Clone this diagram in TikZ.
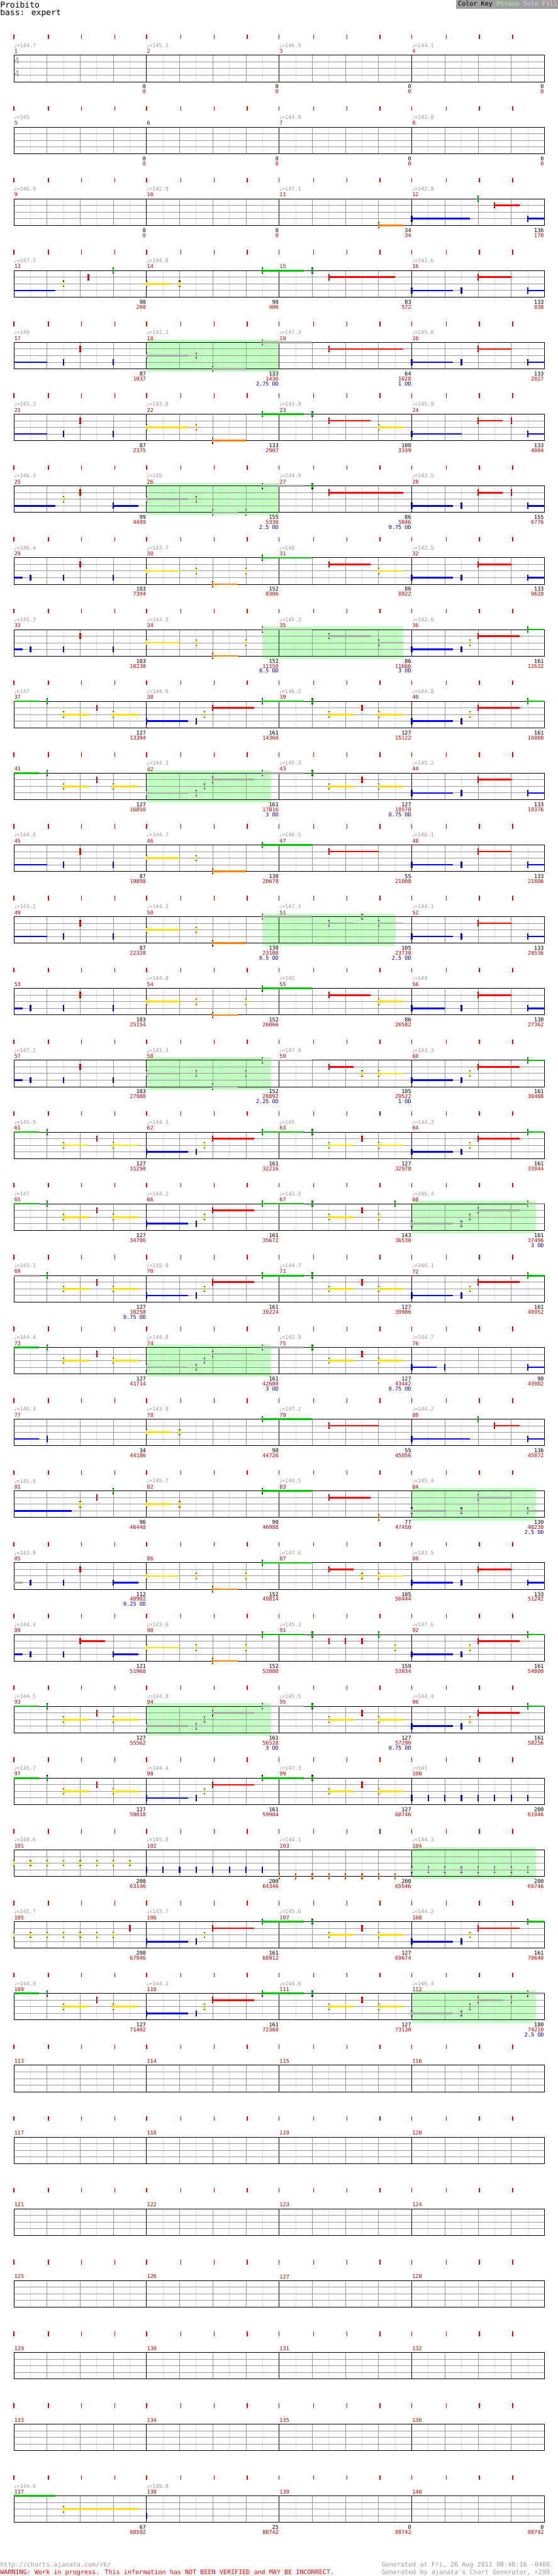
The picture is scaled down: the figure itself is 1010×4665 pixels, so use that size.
\documentclass[tikz,border=0pt]{standalone}
\usepackage{fontspec}
\newfontfamily\mono{DejaVu Sans Mono}
\newfontfamily\dv{DejaVu Sans}
\definecolor{lane0}{HTML}{00C000}
\definecolor{lane1}{HTML}{FF0000}
\definecolor{lane2}{HTML}{FFE000}
\definecolor{lane3}{HTML}{0000FF}
\definecolor{lane4}{HTML}{FF8000}
\definecolor{notegray}{HTML}{A8A8A8}
\definecolor{spfill}{HTML}{C0FFC0}
\definecolor{gridA}{HTML}{999999}
\definecolor{gridB}{HTML}{DDDDDD}
\definecolor{txtgray}{HTML}{999999}
\definecolor{numred}{HTML}{CC0000}
\definecolor{odblue}{HTML}{0000CC}
\definecolor{keybg}{HTML}{A0A0A0}
\definecolor{keyphr}{HTML}{B0F0B0}
\definecolor{keysolo}{HTML}{D0D0FF}
\definecolor{keyfill}{HTML}{FFC8C8}
\tikzset{
 tick/.style={draw=red,line width=0.8pt},
 hb/.style={draw=gridB,line width=0.5pt},
 bl/.style={draw=gridA,line width=0.5pt},
 ml/.style={draw=black,line width=0.5pt},
 sus/.style={line width=1.5pt},
 headk/.style={draw=black,line width=1.3pt},
 headc/.style={line width=1.3pt},
 small/.style={inner sep=0pt,font=\mono\fontsize{4.85pt}{5pt}\selectfont},
 mnum/.style={small,anchor=west,text=numred},
 tempo/.style={small,anchor=west,text=txtgray},
 bnum/.style={small,anchor=east,text=black},
 rnum/.style={small,anchor=east,text=numred},
 od/.style={small,anchor=east,text=odblue},
 ts/.style={inner sep=0pt,anchor=west,text=txtgray,font=\mono\fontsize{8pt}{8pt}\selectfont},
}
\newcommand\Staff[1]{%
 \pgfmathsetmacro\Ty{100+130*(#1-1)}%
 \foreach \b in {0,4,8,12} {\draw[tick] ({25.1+60.03*\b},\Ty-37.7) -- ++(0,8.4);}
 \foreach \b in {1,2,3,5,6,7,9,10,11,13,14,15} {\draw[tick] ({27.6+60.03*\b},\Ty-37.7) -- ++(0,8.4);}
 \foreach \b in {0.5,1.5,...,15.5} {\draw[hb] ({25.1+60.03*\b},\Ty) -- ++(0,48);}
 \foreach \b in {1,2,3,5,6,7,9,10,11,13,14,15} {\draw[bl] ({25.1+60.03*\b},\Ty) -- ++(0,48);}
 \foreach \l in {1,2,3} {\draw[bl] (25.1,\Ty+12*\l) -- (985.6,\Ty+12*\l);}
 \foreach \b in {4,8,12} {\draw[ml] ({25.1+60.03*\b},\Ty) -- ++(0,48);}
 \draw[ml] (25.1,\Ty) rectangle (985.6,\Ty+48);
 \foreach \m in {0,1,2,3} {\pgfmathtruncatemacro\mn{4*(#1-1)+\m+1}\node[mnum] at ({25.6+240.12*\m},\Ty-7.3) {\mn};}
}
\newcommand\SP[3]{%
 \pgfmathsetmacro\Ty{100+130*(#1-1)}%
 \fill[spfill] ({25.1+60.03*#2},\Ty-5.3) rectangle ({25.1+60.03*#3},\Ty+53.3);}
\newcommand\NoteAt[6]{%
 \pgfmathsetmacro\xs{25.1+60.03*#3}%
 \pgfmathsetmacro\xe{25.1+60.03*#4}%
 \pgfmathsetmacro\yy{100+130*(#1-1)+12*#2}%
 \ifdim #4pt>#3pt \draw[sus,#5] (\xs,\yy) -- (\xe,\yy);\fi
 \ifnum#6=1
  \draw[headk] (\xs,\yy-5.5) -- (\xs,\yy+5.5);
  \draw[headc,#5] (\xs,\yy-4.3) -- (\xs,\yy+4.3);
 \fi}
\newcommand\QH[4]{\NoteAt{#1}{#2}{#3}{#4}{lane#2}{1}}
\newcommand\QG[4]{\NoteAt{#1}{#2}{#3}{#4}{notegray}{1}}
\newcommand\QC[4]{\NoteAt{#1}{#2}{#3}{#4}{lane#2}{0}}
\newcommand\QGC[4]{\NoteAt{#1}{#2}{#3}{#4}{notegray}{0}}
\newcommand\Tm[3]{%
 \if\relax\detokenize{#3}\relax\else
 \pgfmathsetmacro\Ty{100+130*(#1-1)}%
 \node[tempo] at ({25.1+240.12*#2},\Ty-18) {{\dv ♩}=#3};%
 \fi}
\newcommand\Rt[5]{\Tm{#1}{0}{#2}\Tm{#1}{1}{#3}\Tm{#1}{2}{#4}\Tm{#1}{3}{#5}}
\newcommand\Nm[4]{%
 \pgfmathsetmacro\Ty{100+130*(#1-1)}%
 \node[bnum] at ({24.6+240.12*#2},\Ty+57) {#3};
 \node[rnum] at ({24.6+240.12*#2},\Ty+66) {#4};}
\newcommand\Rn[9]{\Nm{#1}{1}{#2}{#3}\Nm{#1}{2}{#4}{#5}\Nm{#1}{3}{#6}{#7}\Nm{#1}{4}{#8}{#9}}
\newcommand\Od[3]{%
 \pgfmathsetmacro\Ty{100+130*(#1-1)}%
 \node[od] at ({24.6+240.12*#2},\Ty+75) {#3};}
% recurring riff, beats 1 to 11.75
\newcommand\PatB[1]{%
 \QH{#1}{0}{1}{1}\QH{#1}{2}{1.5}{2.25}\QH{#1}{1}{2.5}{2.5}\QH{#1}{2}{3}{3.75}%
 \QH{#1}{3}{4}{5.25}\QH{#1}{3}{5.5}{5.5}\QH{#1}{2}{5.75}{5.75}\QH{#1}{1}{6}{7.25}%
 \QH{#1}{0}{7.5}{8.75}\QH{#1}{0}{9}{9}\QH{#1}{2}{9.5}{10.25}\QH{#1}{1}{10.5}{10.5}%
 \QH{#1}{2}{11}{11.75}}
\newcommand\PatT[1]{%
 \QH{#1}{3}{12}{13.25}\QH{#1}{3}{13.5}{13.5}\QH{#1}{2}{13.75}{13.75}%
 \QH{#1}{1}{14}{15.25}\QH{#1}{0}{15.5}{16}}
\newcommand\PatA[1]{\PatB{#1}\PatT{#1}}
\begin{document}
\begin{tikzpicture}[x=0.5pt,y=-0.5pt]
\useasboundingbox (0,0) rectangle (1010,4665);
\fill[white] (0,0) rectangle (1010,4665);
% header
\node[inner sep=0pt,anchor=west,font=\mono\fontsize{7.4pt}{8pt}\selectfont] (title) at (0,8.3) {Proibito};
\node[inner sep=0pt,anchor=west,font=\mono\fontsize{7.4pt}{8pt}\selectfont] (sub) at (0,24) {bass: expert};
\fill[keybg] (826,0) rectangle (1010,16);
\node[inner sep=0pt,anchor=west,font=\mono\fontsize{5.75pt}{6pt}\selectfont] (key) at (829,8) {Color Key \textcolor{keyphr}{Phrase} \textcolor{keysolo}{Solo} \textcolor{keyfill}{Fill}};
% star power boxes
\SP{5}{4}{8}\SP{7}{4}{8}\SP{9}{7.5}{11.75}\SP{11}{4}{7.75}\SP{13}{7.5}{11.5}
\SP{15}{4}{7.75}\SP{17}{12}{15.75}\SP{19}{4}{7.75}\SP{21}{12}{15.75}\SP{24}{4}{7.75}
\SP{26}{12}{15.75}\SP{28}{12}{15.75}
% staffs
\foreach \r in {1,...,35} {\Staff{\r}}
\node[ts] (ts1) at (25.5,110) {4};
\node[ts] (ts2) at (25.5,134) {4};
% tempos
\Rt{1}{144.7}{145.1}{146.9}{144.1}
\Rt{2}{145}{}{144.9}{142.8}
\Rt{3}{146.9}{142.9}{147.1}{142.8}
\Rt{4}{147.7}{144.8}{}{141.6}
\Rt{5}{149}{142.2}{147.3}{145.8}
\Rt{6}{145.3}{143.8}{143.9}{145.9}
\Rt{7}{146.3}{145}{144.9}{143.5}
\Rt{8}{146.4}{143.7}{148}{142.5}
\Rt{9}{145.3}{144.9}{145.3}{142.6}
\Rt{10}{147}{144.6}{146.2}{144.8}
\Rt{11}{}{144.3}{145.3}{145.2}
\Rt{12}{144.8}{144.7}{146.5}{146.1}
\Rt{13}{143.1}{144.1}{147.1}{144.1}
\Rt{14}{}{144.8}{145}{144}
\Rt{15}{147.2}{143.3}{147.9}{143.3}
\Rt{16}{145.9}{144.1}{145}{144.3}
\Rt{17}{147}{144.2}{142.5}{146.4}
\Rt{18}{145.1}{145.9}{144.7}{146.1}
\Rt{19}{144.4}{144.8}{142.9}{144.7}
\Rt{20}{146.4}{143.9}{147.2}{144.2}
\Rt{21}{145.8}{145.7}{144.5}{145.4}
\Rt{22}{143.8}{}{147.6}{143.5}
\Rt{23}{144.4}{143.6}{145.3}{147.6}
\Rt{24}{144.5}{144.8}{145.5}{144.4}
\Rt{25}{145.7}{144.4}{147.3}{141}
\Rt{26}{148.6}{145.8}{144.1}{144.3}
\Rt{27}{145.7}{143.7}{145.6}{144.2}
\Rt{28}{144.9}{144.2}{144.6}{146.4}
\Rt{35}{144.6}{139.8}{}{}
% numbers
\Rn{1}{0}{0}{0}{0}{0}{0}{0}{0}
\Rn{2}{0}{0}{0}{0}{0}{0}{0}{0}
\Rn{3}{0}{0}{0}{0}{34}{34}{136}{170}
\Rn{4}{90}{260}{90}{406}{83}{572}{133}{838}
\Rn{5}{87}{1037}{133}{1436}{64}{1628}{133}{2027}
\Rn{6}{87}{2375}{133}{2907}{108}{3339}{133}{4004}
\Rn{7}{99}{4499}{155}{5330}{86}{5846}{155}{6776}
\Rn{8}{103}{7394}{152}{8306}{86}{8822}{133}{9620}
\Rn{9}{103}{10238}{152}{11150}{86}{11666}{161}{12632}
\Rn{10}{127}{13394}{161}{14360}{127}{15122}{161}{16088}
\Rn{11}{127}{16850}{161}{17816}{127}{18578}{133}{19376}
\Rn{12}{87}{19898}{130}{20678}{55}{21008}{133}{21806}
\Rn{13}{87}{22328}{130}{23108}{105}{23738}{133}{24536}
\Rn{14}{103}{25154}{152}{26066}{86}{26582}{130}{27362}
\Rn{15}{103}{27980}{152}{28892}{105}{29522}{161}{30488}
\Rn{16}{127}{31250}{161}{32216}{127}{32978}{161}{33944}
\Rn{17}{127}{34706}{161}{35672}{143}{36530}{161}{37496}
\Rn{18}{127}{38258}{161}{39224}{127}{39986}{161}{40952}
\Rn{19}{127}{41714}{161}{42680}{127}{43442}{90}{43982}
\Rn{20}{34}{44186}{90}{44726}{55}{45056}{136}{45872}
\Rn{21}{96}{46448}{90}{46988}{77}{47450}{130}{48230}
\Rn{22}{112}{48902}{152}{49814}{105}{50444}{133}{51242}
\Rn{23}{121}{51968}{152}{52880}{159}{53834}{161}{54800}
\Rn{24}{127}{55562}{161}{56528}{127}{57290}{161}{58256}
\Rn{25}{127}{59018}{161}{59984}{127}{60746}{200}{61946}
\Rn{26}{200}{63146}{200}{64346}{200}{65546}{200}{66746}
\Rn{27}{200}{67946}{161}{68912}{127}{69674}{161}{70640}
\Rn{28}{127}{71402}{161}{72368}{127}{73130}{180}{74210}
\Rn{35}{67}{88592}{25}{88742}{0}{88742}{0}{88742}
\Od{5}{2}{2.75 OD}\Od{5}{3}{1 OD}
\Od{7}{2}{2.5 OD}\Od{7}{3}{0.75 OD}
\Od{9}{2}{0.5 OD}\Od{9}{3}{3 OD}
\Od{11}{2}{3 OD}\Od{11}{3}{0.75 OD}
\Od{13}{2}{0.5 OD}\Od{13}{3}{2.5 OD}
\Od{15}{2}{2.25 OD}\Od{15}{3}{1 OD}
\Od{17}{4}{3 OD}
\Od{18}{1}{0.75 OD}
\Od{19}{2}{3 OD}\Od{19}{3}{0.75 OD}
\Od{21}{4}{2.5 OD}
\Od{22}{1}{0.25 OD}
\Od{24}{2}{3 OD}\Od{24}{3}{0.75 OD}
\Od{28}{4}{2.5 OD}
% notes
\QH{3}{4}{11}{11.75}\QH{3}{3}{12}{13.75}\QH{3}{0}{14}{14}\QH{3}{1}{14.5}{15.25}\QH{3}{3}{15.5}{16}
\QC{4}{3}{0}{1.25}\QH{4}{2}{1.5}{1.5}\QH{4}{1}{2.25}{2.25}\QH{4}{0}{3}{3}\QH{4}{2}{4}{4.75}\QH{4}{2}{5}{5}\QH{4}{0}{7.5}{8.75}\QH{4}{0}{9}{9}\QH{4}{1}{9.5}{11.5}\QH{4}{3}{12}{13.25}\QH{4}{3}{13.5}{13.5}\QH{4}{1}{14}{15}\QH{4}{3}{15.5}{16}
\QC{5}{3}{0}{1}\QH{5}{3}{1.5}{1.5}\QH{5}{1}{2}{2}\QH{5}{3}{3}{3}\QG{5}{2}{4}{5.25}\QG{5}{2}{5.5}{5.5}\QG{5}{4}{6}{7}\QG{5}{0}{7.5}{9}\QH{5}{1}{9.5}{11.75}\QH{5}{3}{12}{13.25}\QH{5}{3}{13.5}{13.5}\QH{5}{1}{14}{15}\QH{5}{3}{15.5}{16}
\QC{6}{3}{0}{1}\QH{6}{3}{1.5}{1.5}\QH{6}{1}{2}{2}\QH{6}{3}{3}{3}\QH{6}{2}{4}{5.25}\QH{6}{2}{5.5}{5.5}\QH{6}{4}{6}{7}\QH{6}{0}{7.5}{8.75}\QH{6}{0}{9}{9}\QH{6}{1}{9.5}{10.75}\QH{6}{2}{11}{11.75}\QH{6}{3}{12}{13.5}\QH{6}{1}{14}{14.75}\QH{6}{1}{15}{15}\QH{6}{3}{15.5}{16}
\QC{7}{3}{0}{1.25}\QH{7}{2}{1.5}{1.5}\QH{7}{1}{2}{2}\QH{7}{3}{3}{3.75}\QG{7}{2}{4}{5.25}\QG{7}{2}{5.5}{5.5}\QG{7}{4}{6}{6.75}\QG{7}{4}{7}{7}\QG{7}{0}{7.5}{8.75}\QH{7}{0}{9}{9}\QH{7}{1}{9.5}{11.75}\QH{7}{3}{12}{13.25}\QH{7}{3}{13.5}{13.5}\QH{7}{1}{14}{14.75}\QH{7}{1}{15}{15}\QH{7}{3}{15.5}{16}
\QC{8}{3}{0}{0.27}\QH{8}{3}{0.5}{0.5}\QH{8}{3}{1.5}{1.5}\QH{8}{1}{2}{2}\QH{8}{3}{3}{3}\QH{8}{2}{4}{5}\QH{8}{2}{5.5}{5.5}\QH{8}{4}{6}{6.75}\QH{8}{2}{7}{7}\QH{8}{0}{7.5}{9}\QH{8}{1}{9.5}{10.75}\QH{8}{2}{11}{11.75}\QH{8}{3}{12}{13.25}\QH{8}{3}{13.5}{13.5}\QH{8}{1}{14}{15}\QH{8}{3}{15.5}{16}
\QC{9}{3}{0}{0.27}\QH{9}{3}{0.5}{0.5}\QH{9}{3}{1.5}{1.5}\QH{9}{1}{2}{2}\QH{9}{3}{3}{3}\QH{9}{2}{4}{5}\QH{9}{2}{5.5}{5.5}\QH{9}{4}{6}{6.75}\QH{9}{2}{7}{7}\QG{9}{0}{7.5}{9}\QG{9}{1}{9.5}{10.75}\QG{9}{2}{11}{11.75}\QH{9}{3}{12}{13.25}\QH{9}{3}{13.5}{13.5}\QH{9}{2}{13.75}{13.75}\QH{9}{1}{14}{15.25}\QH{9}{0}{15.5}{16}
\QC{10}{0}{0}{0.75}\PatA{10}
\QC{11}{0}{0}{0.75}\QH{11}{0}{1}{1}\QH{11}{2}{1.5}{2.25}\QH{11}{1}{2.5}{2.5}\QH{11}{2}{3}{3.75}\QG{11}{3}{4}{5.25}\QG{11}{3}{5.5}{5.5}\QG{11}{2}{5.75}{5.75}\QG{11}{1}{6}{7.25}\QG{11}{0}{7.5}{8.75}\QH{11}{0}{9}{9}\QH{11}{2}{9.5}{10.25}\QH{11}{1}{10.5}{10.5}\QH{11}{2}{11}{11.75}\QH{11}{3}{12}{13.25}\QH{11}{3}{13.5}{13.5}\QH{11}{1}{14}{15}\QH{11}{3}{15.5}{16}
\QC{12}{3}{0}{1}\QH{12}{3}{1.5}{1.5}\QH{12}{1}{2}{2}\QH{12}{3}{3}{3}\QH{12}{2}{4}{5}\QH{12}{2}{5.5}{5.5}\QH{12}{4}{6}{7}\QH{12}{0}{7.5}{9}\QH{12}{1}{9.5}{11}\QH{12}{3}{12}{13.25}\QH{12}{3}{13.5}{13.5}\QH{12}{1}{14}{15}\QH{12}{3}{15.5}{16}
\QC{13}{3}{0}{1}\QH{13}{3}{1.5}{1.5}\QH{13}{1}{2}{2}\QH{13}{3}{3}{3}\QH{13}{2}{4}{5}\QH{13}{2}{5.5}{5.5}\QH{13}{4}{6}{7}\QG{13}{0}{7.5}{9}\QG{13}{1}{9.5}{10.25}\QG{13}{0}{10.5}{10.5}\QG{13}{1}{11}{11.75}\QH{13}{3}{12}{13.25}\QH{13}{3}{13.5}{13.5}\QH{13}{1}{14}{15}\QH{13}{3}{15.5}{16}
\QC{14}{3}{0}{0.27}\QH{14}{3}{0.5}{0.5}\QH{14}{3}{1.5}{1.5}\QH{14}{1}{2}{2}\QH{14}{3}{3}{3}\QH{14}{2}{4}{5}\QH{14}{2}{5.5}{5.5}\QH{14}{4}{6}{6.75}\QH{14}{2}{7}{7}\QH{14}{0}{7.5}{9}\QH{14}{1}{9.5}{10.75}\QH{14}{2}{11}{11.75}\QH{14}{3}{12}{13}\QH{14}{3}{13.5}{13.5}\QH{14}{1}{14}{15}\QH{14}{3}{15.5}{16}
\QC{15}{3}{0}{0.27}\QH{15}{3}{0.5}{0.5}\QH{15}{3}{1.5}{1.5}\QH{15}{1}{2}{2}\QH{15}{3}{3}{3}\QG{15}{2}{4}{5}\QG{15}{2}{5.5}{5.5}\QG{15}{4}{6}{6.75}\QG{15}{2}{7}{7}\QG{15}{0}{7.5}{9}\QH{15}{1}{9.5}{10.25}\QH{15}{2}{10.5}{10.5}\QH{15}{2}{11}{11.75}\QH{15}{3}{12}{13.25}\QH{15}{3}{13.5}{13.5}\QH{15}{2}{13.75}{13.75}\QH{15}{1}{14}{15.25}\QH{15}{0}{15.5}{16}
\QC{16}{0}{0}{0.75}\PatA{16}
\QC{17}{0}{0}{0.75}\QH{17}{0}{1}{1}\QH{17}{2}{1.5}{2.25}\QH{17}{1}{2.5}{2.5}\QH{17}{2}{3}{3.75}\QH{17}{3}{4}{5.25}\QH{17}{3}{5.5}{5.5}\QH{17}{2}{5.75}{5.75}\QH{17}{1}{6}{7.25}\QH{17}{0}{7.5}{8.75}\QH{17}{0}{9}{9}\QH{17}{2}{9.5}{10.25}\QH{17}{1}{10.5}{10.5}\QH{17}{2}{11}{11}\QH{17}{0}{11.5}{11.5}\QG{17}{3}{12}{13.25}\QG{17}{3}{13.5}{13.5}\QG{17}{2}{13.75}{13.75}\QG{17}{1}{14}{15.25}\QG{17}{0}{15.5}{16}
\QGC{18}{0}{0}{0.75}\PatA{18}
\QC{19}{0}{0}{0.75}\QH{19}{0}{1}{1}\QH{19}{2}{1.5}{2.25}\QH{19}{1}{2.5}{2.5}\QH{19}{2}{3}{3.75}\QG{19}{3}{4}{5.25}\QG{19}{3}{5.5}{5.5}\QG{19}{2}{5.75}{5.75}\QG{19}{1}{6}{7.25}\QG{19}{0}{7.5}{8.75}\QH{19}{0}{9}{9}\QH{19}{2}{9.5}{10.25}\QH{19}{1}{10.5}{10.5}\QH{19}{2}{11}{11.75}\QH{19}{3}{12}{12.75}\QH{19}{3}{13}{13}\QH{19}{3}{15.5}{16}
\QC{20}{3}{0}{0.75}\QH{20}{3}{1}{1}\QH{20}{2}{4}{4.75}\QH{20}{2}{5}{5}\QH{20}{0}{7.5}{9}\QH{20}{1}{9.5}{11}\QH{20}{3}{12}{13.75}\QH{20}{0}{14}{14}\QH{20}{1}{14.5}{15.25}\QH{20}{3}{15.5}{16}
\QC{21}{3}{0}{1.75}\QH{21}{2}{2}{2}\QH{21}{1}{2.5}{2.5}\QH{21}{0}{3}{3}\QH{21}{2}{4}{4.75}\QH{21}{2}{5}{5}\QH{21}{0}{7.5}{9}\QH{21}{1}{9.5}{10.75}\QH{21}{4}{11}{11}\QG{21}{3}{12}{13}\QG{21}{3}{13.5}{13.5}\QG{21}{1}{14}{15}\QG{21}{3}{15.5}{16}
\QGC{22}{3}{0}{0.27}\QH{22}{3}{0.5}{0.5}\QH{22}{3}{1.5}{1.5}\QH{22}{1}{2}{2}\QH{22}{3}{3}{3.75}\QH{22}{2}{4}{5}\QH{22}{2}{5.5}{5.5}\QH{22}{4}{6}{6.75}\QH{22}{2}{7}{7}\QH{22}{0}{7.5}{9}\QH{22}{1}{9.5}{10.25}\QH{22}{2}{10.5}{10.5}\QH{22}{2}{11}{11.75}\QH{22}{3}{12}{13.25}\QH{22}{3}{13.5}{13.5}\QH{22}{1}{14}{15}\QH{22}{3}{15.5}{16}
\QC{23}{3}{0}{0.27}\QH{23}{3}{0.5}{0.5}\QH{23}{3}{1.5}{1.5}\QH{23}{1}{2}{2.75}\QH{23}{3}{3}{3.75}\QH{23}{2}{4}{5}\QH{23}{2}{5.5}{5.5}\QH{23}{4}{6}{6.75}\QH{23}{2}{7}{7}\QH{23}{0}{7.5}{8.75}\QH{23}{0}{9}{9}\QH{23}{1}{9.5}{9.5}\QH{23}{1}{10}{10}\QH{23}{1}{10.5}{10.5}\QH{23}{0}{11}{11}\QH{23}{2}{11.5}{11.5}\QH{23}{3}{12}{13.25}\QH{23}{3}{13.5}{13.5}\QH{23}{2}{13.75}{13.75}\QH{23}{1}{14}{15.25}\QH{23}{0}{15.5}{16}
\QC{24}{0}{0}{0.75}\QH{24}{0}{1}{1}\QH{24}{2}{1.5}{2.25}\QH{24}{1}{2.5}{2.5}\QH{24}{2}{3}{3.75}\QG{24}{3}{4}{5.25}\QG{24}{3}{5.5}{5.5}\QG{24}{2}{5.75}{5.75}\QG{24}{1}{6}{7.25}\QG{24}{0}{7.5}{8.75}\QH{24}{0}{9}{9}\QH{24}{2}{9.5}{10.25}\QH{24}{1}{10.5}{10.5}\QH{24}{2}{11}{11.75}\PatT{24}
\QC{25}{0}{0}{0.75}\PatB{25}\foreach \b in {12,12.5,...,15.5} {\QH{25}{3}{\b}{\b}}
\foreach \b in {0,0.5,...,3.5} {\QH{26}{2}{\b}{\b}}
\foreach \b in {4,4.5,...,7.5} {\QH{26}{3}{\b}{\b}}
\foreach \b in {8,8.5,...,11.5} {\QH{26}{4}{\b}{\b}}
\foreach \b in {12,12.5,...,15.5} {\QG{26}{3}{\b}{\b}}
\foreach \b in {0,0.5,...,3} {\QH{27}{2}{\b}{\b}}
\QH{27}{1}{3.5}{3.5}\QH{27}{3}{4}{5.25}\QH{27}{3}{5.5}{5.5}\QH{27}{2}{5.75}{5.75}\QH{27}{1}{6}{7.25}\QH{27}{0}{7.5}{8.75}\QH{27}{0}{9}{9}\QH{27}{2}{9.5}{10.25}\QH{27}{1}{10.5}{10.5}\QH{27}{2}{11}{11.75}\PatT{27}
\QC{28}{0}{0}{0.75}\PatB{28}\QG{28}{3}{12}{13.25}\QG{28}{3}{13.5}{13.5}\QG{28}{2}{13.75}{13.75}\QG{28}{1}{14}{14.75}\QG{28}{1}{15}{15}\QG{28}{0}{15.5}{16}
\QC{35}{0}{0}{1.25}\QH{35}{2}{1.5}{3.75}\QH{35}{3}{4}{4}
% footer
\node[inner sep=0pt,anchor=west,text=txtgray,font=\mono\fontsize{5.75pt}{6pt}\selectfont] (url) at (0,4645) {http://charts.ajanata.com/rb/};
\node[inner sep=0pt,anchor=west,text=red,font=\mono\fontsize{5.75pt}{6pt}\selectfont] (warn) at (0,4659) {WARNING: Work in progress. This information has NOT BEEN VERIFIED and MAY BE INCORRECT.};
\node[inner sep=0pt,anchor=east,text=txtgray,font=\mono\fontsize{5.75pt}{6pt}\selectfont] (gen1) at (1003,4645) {Generated at Fri, 26 Aug 2011 08:40:16 -0400.};
\node[inner sep=0pt,anchor=east,text=txtgray,font=\mono\fontsize{5.75pt}{6pt}\selectfont] (gen2) at (1003,4659) {Generated by ajanata's Chart Generator, r299.};
\end{tikzpicture}
\end{document}
